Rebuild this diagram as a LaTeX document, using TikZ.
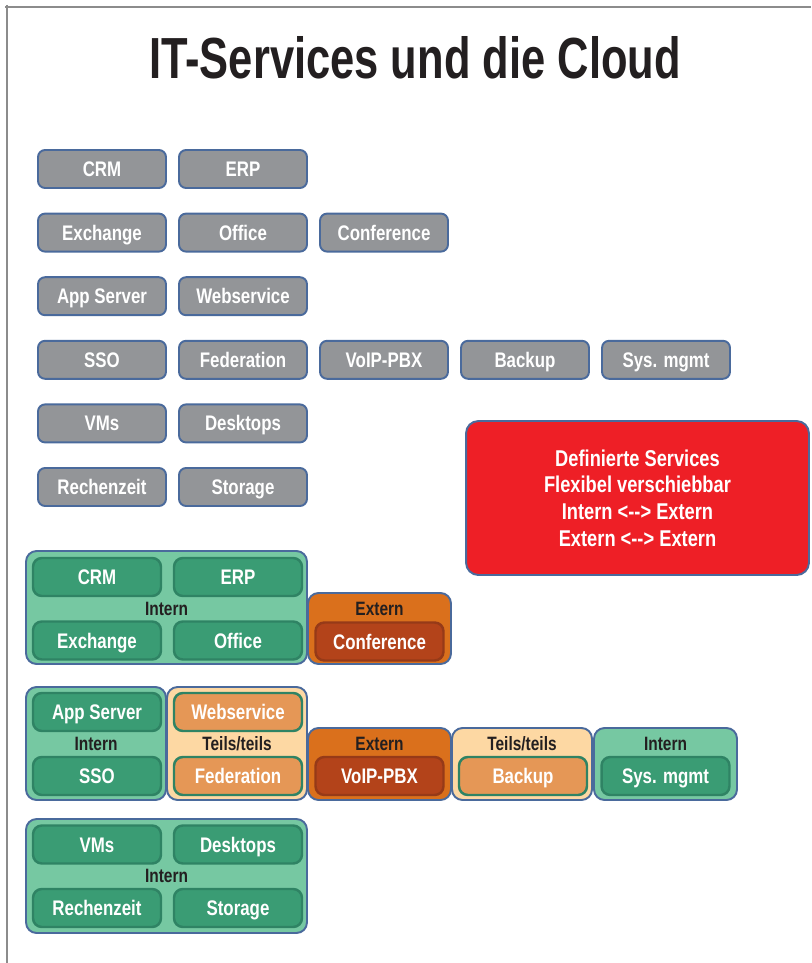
\documentclass[tikz,border=0pt]{standalone}
\usepackage{fontspec}
\setmainfont{Liberation Sans}[FakeStretch=0.8]
\newfontfamily\titlefont{Liberation Sans}[FakeStretch=0.75]
\usepackage{xcolor}
\usepackage{tikz}
\usetikzlibrary{positioning}

\definecolor{rimblue}{HTML}{4A6A9C}
\definecolor{svcgray}{HTML}{939598}
\definecolor{intlight}{HTML}{76C8A2}
\definecolor{intdark}{HTML}{3A9C74}
\definecolor{intrim}{HTML}{2F8364}
\definecolor{extlight}{HTML}{DA701C}
\definecolor{extdark}{HTML}{B3431A}
\definecolor{extrim}{HTML}{963A18}
\definecolor{tlight}{HTML}{FDD8A3}
\definecolor{tdark}{HTML}{E59756}
\definecolor{hotred}{HTML}{EE1F26}
\definecolor{labelink}{HTML}{231F20}
\definecolor{framegray}{HTML}{8C8C8C}

\tikzset{
  svc/.style={draw=rimblue, line width=1.1pt, rounded corners=4pt, fill=svcgray,
    text=white, minimum width=2.56cm, minimum height=0.76cm, inner sep=0pt,
    text height=8.6pt, text depth=0pt,
    font=\fontsize{12}{14}\selectfont\bfseries},
  grp/.style={draw=rimblue, line width=1.1pt, rounded corners=6pt, inner sep=0pt},
  ingrp/.style={grp, fill=intlight},
  exgrp/.style={grp, fill=extlight},
  tgrp/.style={grp, fill=tlight},
  isvc/.style={svc, fill=intdark, draw=intrim, line width=1.4pt, rounded corners=5pt},
  esvc/.style={isvc, fill=extdark, draw=extrim},
  tsvc/.style={isvc, fill=tdark, draw=intrim},
  grplabel/.style={text=labelink, inner sep=0pt, text height=7.9pt, text depth=0pt,
    font=\fontsize{11}{13}\selectfont\bfseries},
  notebox/.style={draw=rimblue, line width=1.1pt, rounded corners=7pt, fill=hotred,
    text=white, minimum width=6.86cm, minimum height=3.08cm, align=center,
    font=\fontsize{13}{15.2}\selectfont\bfseries},
}

\begin{document}
\begin{tikzpicture}[x=0.02cm, y=-0.02cm]
  \useasboundingbox[fill=white] (0,0) rectangle (811,963);
  \draw[framegray, line width=1.2pt] (5,7) -- (811,7);
  \draw[framegray, line width=1.2pt] (7,5) -- (7,963);

  \node[text=labelink, font=\titlefont\fontsize{33}{38}\selectfont\bfseries] (title) at (415,58) {IT-Services und die Cloud};

  % service catalogue
  \foreach \id/\txt/\c/\r in {crm/CRM/0/0, erp/ERP/1/0, exch/Exchange/0/1, office/Office/1/1,
      conf/Conference/2/1, app/App Server/0/2, web/Webservice/1/2, sso/SSO/0/3,
      fed/Federation/1/3, voip/VoIP-PBX/2/3, backup/Backup/3/3, sysm/Sys. mgmt/4/3,
      vms/VMs/0/4, desk/Desktops/1/4, rz/Rechenzeit/0/5, stor/Storage/1/5}
    \node[svc] (g-\id) at ({102+141*\c},{169+63.6*\r}) {\txt};

  \node[notebox] (note) at (637.5,498)
    {Definierte Services\\Flexibel verschiebbar\\Intern <{-}{-}> Extern\\Extern <{-}{-}> Extern};

  % group 1
  \node[ingrp, minimum width=5.62cm, minimum height=2.26cm] (a-int) at (166.5,607.5) {};
  \node[grplabel] (a-intl) at (166.5,609) {Intern};
  \node[isvc] (a-crm) at (97,577) {CRM};
  \node[isvc] (a-erp) at (238,577) {ERP};
  \node[isvc] (a-exch) at (97,640.5) {Exchange};
  \node[isvc] (a-office) at (238,640.5) {Office};
  \node[exgrp, minimum width=2.86cm, minimum height=1.42cm] (a-ext) at (379.5,628.5) {};
  \node[grplabel] (a-extl) at (379.5,609) {Extern};
  \node[esvc] (a-conf) at (379.5,641.5) {Conference};

  % group 2
  \node[ingrp, minimum width=2.8cm, minimum height=2.26cm] (b-int) at (96,743.5) {};
  \node[grplabel] (b-intl) at (96,744) {Intern};
  \node[isvc] (b-app) at (97,712) {App Server};
  \node[isvc] (b-sso) at (97,776) {SSO};
  \node[tgrp, minimum width=2.8cm, minimum height=2.26cm] (b-tt) at (237,743.5) {};
  \node[grplabel] (b-ttl) at (237,744) {Teils/teils};
  \node[tsvc] (b-web) at (238,712) {Webservice};
  \node[tsvc] (b-fed) at (238,776) {Federation};
  \node[exgrp, minimum width=2.86cm, minimum height=1.44cm] (b-ext) at (379.5,764) {};
  \node[grplabel] (b-extl) at (379.5,744) {Extern};
  \node[esvc] (b-voip) at (379.5,776) {VoIP-PBX};
  \node[tgrp, minimum width=2.8cm, minimum height=1.44cm] (b-tt2) at (522,764) {};
  \node[grplabel] (b-tt2l) at (522,744) {Teils/teils};
  \node[tsvc] (b-backup) at (523,776) {Backup};
  \node[ingrp, minimum width=2.86cm, minimum height=1.44cm] (b-int2) at (665.5,764) {};
  \node[grplabel] (b-int2l) at (665.5,744) {Intern};
  \node[isvc] (b-sysm) at (665.5,776) {Sys. mgmt};

  % group 3
  \node[ingrp, minimum width=5.62cm, minimum height=2.28cm] (c-int) at (166.5,876) {};
  \node[grplabel] (c-intl) at (166.5,876) {Intern};
  \node[isvc] (c-vms) at (97,844.5) {VMs};
  \node[isvc] (c-desk) at (238,844.5) {Desktops};
  \node[isvc] (c-rz) at (97,908) {Rechenzeit};
  \node[isvc] (c-stor) at (238,908) {Storage};
\end{tikzpicture}
\end{document}
